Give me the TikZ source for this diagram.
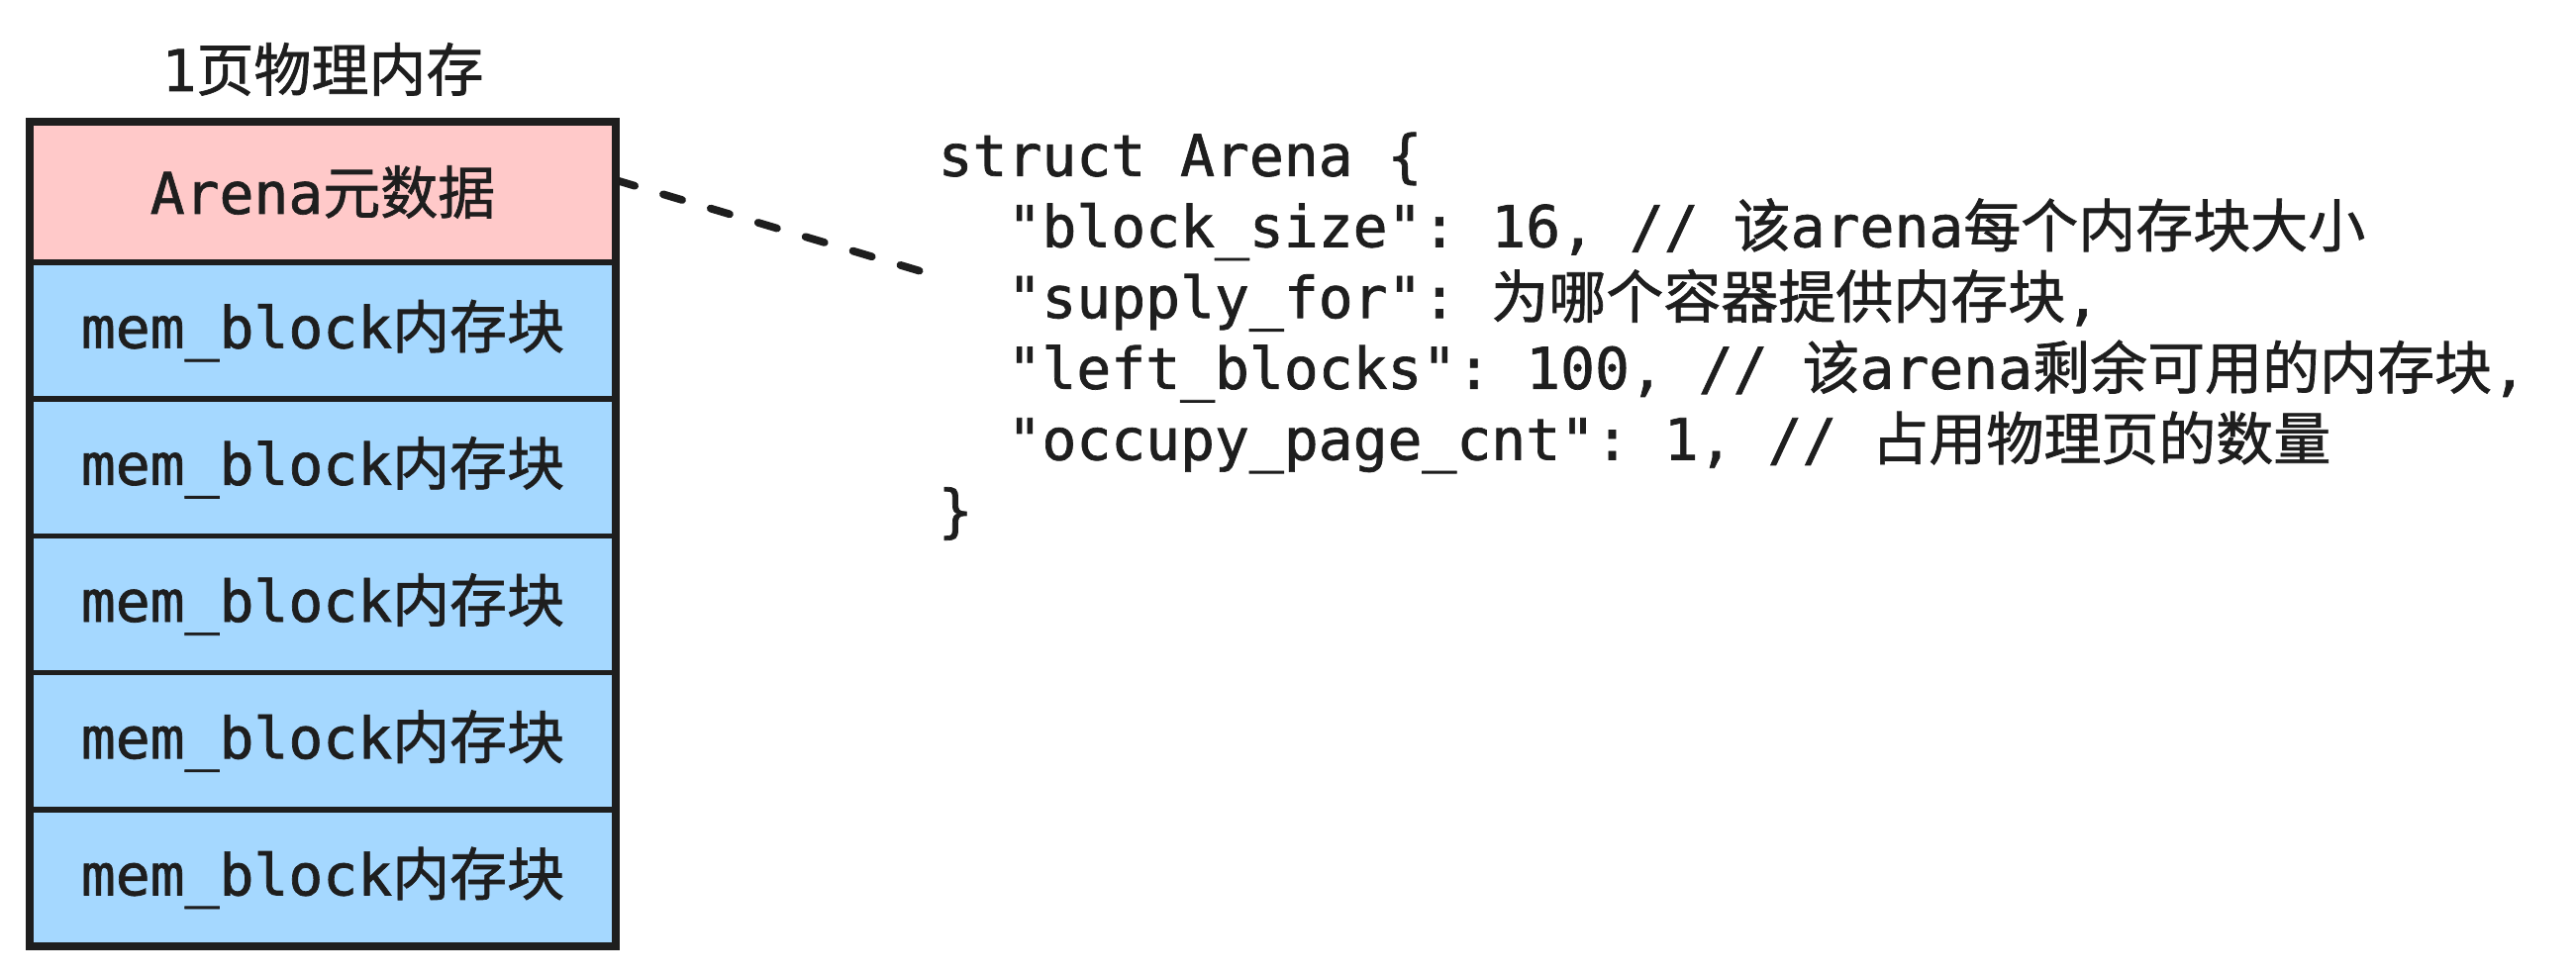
\documentclass[tikz,border=0pt]{standalone}
\usepackage{fontspec}
\setmonofont{DejaVu Sans Mono}[RawFeature={embolden=1.2}]
\newfontfamily\cjk{Noto Sans CJK SC}[RawFeature={embolden=1.2}]
\usetikzlibrary{positioning}
\definecolor{ink}{HTML}{1E1E1E}
\definecolor{metared}{HTML}{FFC9C9}
\definecolor{blockblue}{HTML}{A5D8FF}
\tikzset{
  txt/.style = {text = ink, font = \ttfamily\fontsize{16.5}{20.4}\selectfont\frenchspacing},
  row/.style = {txt, draw = ink, line width = 1.6pt, outer sep = 0pt, inner sep = 0pt,
                minimum width = 5.92cm, minimum height = 1.382cm},
}

\begin{document}
\begin{tikzpicture}
	\useasboundingbox (0, 0) rectangle (26.02, 9.84);
	\node [txt] (title) at (3.26, 9.14) {1{\cjk 页物理内存}};
	\node [row, fill = metared, minimum height = 1.42cm] (arena) at (3.26, 7.90) {Arena{\cjk 元数据}};
	\node [row, fill = blockblue, below = 0pt of arena] (blk1) {mem\_block{\cjk 内存块}};
	\node [row, fill = blockblue, below = 0pt of blk1] (blk2) {mem\_block{\cjk 内存块}};
	\node [row, fill = blockblue, below = 0pt of blk2] (blk3) {mem\_block{\cjk 内存块}};
	\node [row, fill = blockblue, below = 0pt of blk3] (blk4) {mem\_block{\cjk 内存块}};
	\node [row, fill = blockblue, below = 0pt of blk4] (blk5) {mem\_block{\cjk 内存块}};
	\draw [ink, line width = 2.4pt] (arena.north west) rectangle (blk5.south east);

	\coordinate (tip) at (9.40, 7.07);
	\draw [ink, line width = 2.2pt, line cap = round, dash pattern = on 2mm off 3mm] ([yshift = 1.2mm]arena.east) -- (tip);

	\node [txt, anchor = north west, align = left, inner sep = 0pt] (code) at (9.47, 8.51) {%
		struct Arena \{\\
		\hphantom{xx}"block\_size": 16, // {\cjk 该}arena{\cjk 每个内存块大小}\\
		\hphantom{xx}"supply\_for": {\cjk 为哪个容器提供内存块},\\
		\hphantom{xx}"left\_blocks": 100, // {\cjk 该}arena{\cjk 剩余可用的内存块},\\
		\hphantom{xx}"occupy\_page\_cnt": 1, // {\cjk 占用物理页的数量}\\
		\}};
\end{tikzpicture}
\end{document}
